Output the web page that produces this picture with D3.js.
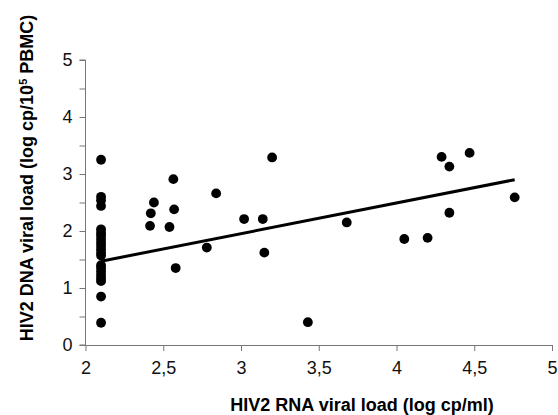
<!DOCTYPE html>
<html>
<head>
<meta charset="utf-8">
<script src="https://cdn.jsdelivr.net/npm/d3@7"></script>
<style>
  body { margin: 0; background: #fff; }
  svg { display: block; font-family: Arial, "Liberation Sans", sans-serif; }
</style>
</head>
<body>
<div id="container"></div>
<script>
const width = 558;
const height = 415;

// HIV2 RNA (x) vs DNA (y) viral load
const rnaLoad = [
    2.1, 2.1, 2.1, 2.1, 2.1, 2.1, 2.1, 2.1, 2.1, 2.1, 2.1,
    2.1, 2.1, 2.1, 2.1, 2.1, 2.1, 2.1, 2.1, 2.1, 2.1,
    2.415, 2.42, 2.44, 2.54, 2.565, 2.57, 2.58, 2.78, 2.84,
    3.02, 3.14, 3.15, 3.2, 3.43, 3.68, 4.05, 4.2, 4.29,
    4.34, 4.34, 4.47, 4.76
];
const dnaLoad = [
    3.25, 2.6, 2.54, 2.44, 2.03, 1.97, 1.92, 1.86, 1.8, 1.74, 1.68,
    1.62, 1.57, 1.4, 1.35, 1.29, 1.23, 1.17, 1.12, 0.85, 0.39,
    2.09, 2.31, 2.5, 2.07, 2.91, 2.38, 1.35, 1.71, 2.66,
    2.21, 2.21, 1.62, 3.29, 0.4, 2.15, 1.86, 1.88, 3.3,
    3.13, 2.32, 3.37, 2.59
];
// regression line end points [rna, dna]
const fitLine = [[2.1, 1.47], [4.76, 2.9]];
const xTicks = [2, 2.5, 3, 3.5, 4, 4.5, 5];
const yTicks = [0, 0.5, 1, 1.5, 2, 2.5, 3, 3.5, 4, 4.5, 5];

const points = rnaLoad.map((r, i) => ({ x: r, y: dnaLoad[i] }));

const x = d3.scaleLinear().domain([2, 5]).range([85.5, 552]);
const y = d3.scaleLinear().domain([0, 5]).range([345, 60]);

const svg = d3.select("#container")
    .append("svg")
    .attr("width", width)
    .attr("height", height);

const comma = (d) => String(d).replace(".", ",");

const yAxis = svg.append("g")
    .attr("transform", `translate(${x(2)},0)`)
    .call(d3.axisLeft(y)
        .tickValues(yTicks)
        .tickSize(6)
        .tickPadding(7)
        .tickFormat((d) => (Number.isInteger(d) ? comma(d) : "")));

const xAxis = svg.append("g")
    .attr("transform", `translate(0,${y(0)})`)
    .call(d3.axisBottom(x)
        .tickValues(xTicks)
        .tickSize(6)
        .tickSizeOuter(0)
        .tickPadding(10)
        .tickFormat(comma));

[yAxis, xAxis].forEach((g) => {
    g.select(".domain").attr("stroke", "#777");
    g.selectAll(".tick line").attr("stroke", "#777");
    g.selectAll(".tick text")
        .attr("fill", "#111")
        .style("font-size", "18px");
});
yAxis.select(".domain").attr("d", `M-6,${y(5)}H0V${y(0)}H-6`);

svg.append("line")
    .attr("x1", x(fitLine[0][0]))
    .attr("y1", y(fitLine[0][1]))
    .attr("x2", x(fitLine[1][0]))
    .attr("y2", y(fitLine[1][1]))
    .attr("stroke", "#000")
    .attr("stroke-width", 3);

svg.append("g")
    .selectAll("circle")
    .data(points)
    .enter()
    .append("circle")
    .attr("cx", (d) => x(d.x))
    .attr("cy", (d) => y(d.y))
    .attr("r", 4.9)
    .attr("fill", "#000");

svg.append("text")
    .attr("x", 362)
    .attr("y", 411)
    .attr("text-anchor", "middle")
    .style("font-size", "18px")
    .style("font-weight", "bold")
    .text("HIV2 RNA viral load (log cp/ml)");

const yLabel = svg.append("text")
    .attr("transform", "translate(33,178) rotate(-90)")
    .attr("text-anchor", "middle")
    .style("font-size", "18px")
    .style("font-weight", "bold");
yLabel.append("tspan").text("HIV2 DNA viral load (log cp/10");
yLabel.append("tspan").attr("dy", -6).style("font-size", "11px").text("5");
yLabel.append("tspan").attr("dy", 6).text(" PBMC)");
</script>
</body>
</html>
